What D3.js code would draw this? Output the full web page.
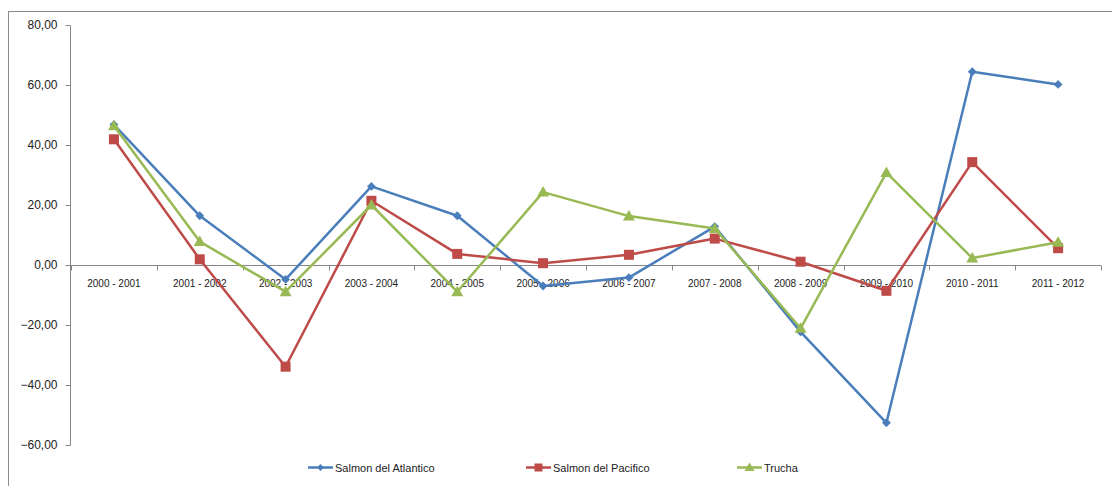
<!DOCTYPE html>
<html><head><meta charset="utf-8">
<script src="https://cdn.jsdelivr.net/npm/d3@7"></script>
<style>body{margin:0;background:#fff}svg{display:block}</style>
</head><body>
<svg id="c" width="1112" height="486"></svg>
<script>
const categories = ["2000 - 2001","2001 - 2002","2002 - 2003","2003 - 2004","2004 - 2005","2005 - 2006","2006 - 2007","2007 - 2008","2008 - 2009","2009 - 2010","2010 - 2011","2011 - 2012"];
const salmonAtlantico = [46.8,16.4,-4.8,26.2,16.4,-7.0,-4.2,12.8,-22.3,-52.6,64.4,60.2];
const salmonPacifico = [41.9,1.9,-33.9,21.4,3.7,0.6,3.4,8.8,1.1,-8.6,34.3,5.6];
const trucha = [46.4,7.8,-8.9,20.0,-8.9,24.3,16.3,12.2,-21.1,30.8,2.3,7.6];
const yTicks = [-60,-40,-20,0,20,40,60,80];
const seriesNames = ["Salmon del Atlantico","Salmon del Pacifico","Trucha"];

const series = [
  {name: seriesNames[0], values: salmonAtlantico, color: "#4A7EBB", shape: "diamond"},
  {name: seriesNames[1], values: salmonPacifico, color: "#BE4B48", shape: "square"},
  {name: seriesNames[2], values: trucha, color: "#98B954", shape: "triangle"}
];

const svg = d3.select("#c");
const font = "'Liberation Sans', Arial, sans-serif";
svg.append("rect").attr("x",8.5).attr("y",11.5).attr("width",1120).attr("height",500)
  .attr("fill","#fff").attr("stroke","#8c8c8c").attr("stroke-width",1);

const x = d3.scaleBand().domain(categories).range([71,1101]);
const y = d3.scaleLinear().domain([-60,80]).range([445,25]);

// y axis
const yAxis = svg.append("g").attr("transform","translate(70.5,0)")
  .call(d3.axisLeft(y).tickValues(yTicks).tickSize(5).tickPadding(8)
    .tickFormat(d => d3.format(".2f")(d).replace(".", ",")));
yAxis.selectAll("path,line").attr("stroke","#868686");
yAxis.select(".domain").attr("d","M0,25.5V445.5");
yAxis.selectAll("text").attr("font-family",font).attr("font-size",12).attr("fill","#222");

// x axis at zero
const xAxis = svg.append("g").attr("transform",`translate(0,${Math.round(y(0))+0.5})`)
  .call(d3.axisBottom(x).tickSize(0).tickPadding(14));
xAxis.select(".domain").attr("stroke","#868686").attr("d","M71,0H1101");
xAxis.selectAll("text").attr("font-family",font).attr("font-size",10).attr("fill","#222");
// boundary ticks
const bounds = categories.map(c => x(c)).concat([x.range()[1]]);
xAxis.selectAll(".btick").data(bounds).enter().append("line")
  .attr("x1",d=>Math.round(d)+0.5).attr("x2",d=>Math.round(d)+0.5).attr("y1",0).attr("y2",5)
  .attr("stroke","#868686");

const cx = i => x(categories[i]) + x.bandwidth()/2;
const line = d3.line().x((d,i)=>cx(i)).y(d=>y(d));

function marker(g, shape, color, px, py) {
  if (shape === "diamond") {
    g.append("path").attr("d", d3.symbol().type(d3.symbolDiamond2).size(50)())
      .attr("transform",`translate(${px},${py}) rotate(0)`).attr("fill",color);
  } else if (shape === "square") {
    g.append("rect").attr("x",px-5).attr("y",py-5).attr("width",10).attr("height",10).attr("fill",color);
  } else {
    g.append("path").attr("d",`M${px},${py-6}L${px+6},${py+4.5}L${px-6},${py+4.5}Z`).attr("fill",color);
  }
}

series.forEach(s => {
  const g = svg.append("g");
  g.append("path").datum(s.values).attr("d",line).attr("fill","none")
    .attr("stroke",s.color).attr("stroke-width",2.5).attr("stroke-linejoin","round");
  s.values.forEach((v,i) => marker(g, s.shape, s.color, cx(i), y(v)));
});

// legend
const legendX = [308, 526, 737];
series.forEach((s,i) => {
  const g = svg.append("g");
  const lx = legendX[i], ly = 467.5;
  g.append("line").attr("x1",lx).attr("x2",lx+25).attr("y1",ly).attr("y2",ly)
    .attr("stroke",s.color).attr("stroke-width",2.5);
  const mk = svg.append("g");
  if (s.shape === "diamond") {
    mk.append("path").attr("d", d3.symbol().type(d3.symbolDiamond2).size(30)())
      .attr("transform",`translate(${lx+12.5},${ly})`).attr("fill",s.color);
  } else if (s.shape === "square") {
    mk.append("rect").attr("x",lx+8.5).attr("y",ly-4).attr("width",8).attr("height",8).attr("fill",s.color);
  } else {
    mk.append("path").attr("d",`M${lx+12.5},${ly-5}L${lx+17.5},${ly+3.5}L${lx+7.5},${ly+3.5}Z`).attr("fill",s.color);
  }
  g.append("text").attr("x",lx+27).attr("y",ly+4).attr("font-family",font).attr("font-size",11)
    .attr("fill","#222").text(s.name);
});
</script>
</body></html>
